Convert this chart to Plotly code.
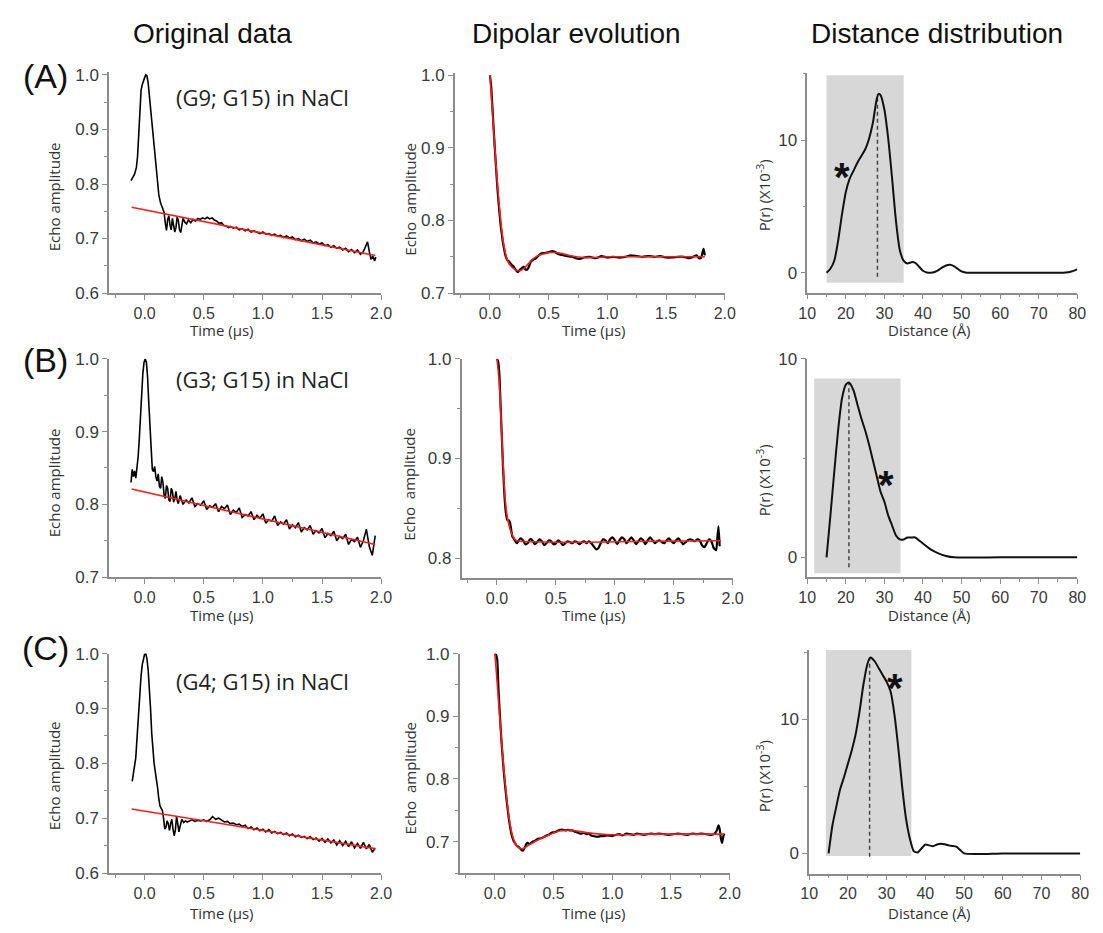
import plotly.graph_objects as go

W, H = 1103, 933

# ---------------- data: original data (column 1) ----------------
A_orig_t = [-0.115, -0.10, -0.085, -0.07, -0.06, -0.05, -0.04, -0.03, -0.02, -0.01, 0.0, 0.01, 0.02, 0.03,
            0.045, 0.06, 0.075, 0.09, 0.105, 0.12, 0.135, 0.15, 0.165, 0.175, 0.185, 0.195, 0.205, 0.215,
            0.225, 0.235, 0.245, 0.255, 0.265, 0.275, 0.285, 0.295, 0.305, 0.315, 0.325, 0.34, 0.355, 0.37,
            0.39, 0.41, 0.43, 0.45, 0.47, 0.49, 0.51, 0.53, 0.55, 0.57, 0.59, 0.61, 0.63, 0.65, 0.67, 0.69,
            0.71, 0.725, 0.75, 0.775, 0.80, 0.825, 0.85, 0.875, 0.90, 0.925, 0.95, 0.975, 1.00, 1.025, 1.05,
            1.075, 1.10, 1.125, 1.15, 1.175, 1.20, 1.225, 1.25, 1.275, 1.30, 1.325, 1.35, 1.375, 1.40, 1.425,
            1.45, 1.475, 1.50, 1.525, 1.55, 1.575, 1.60, 1.625, 1.65, 1.675, 1.70, 1.725, 1.75, 1.775, 1.80,
            1.825, 1.85, 1.87, 1.885, 1.90, 1.915, 1.93, 1.945, 1.955]
A_orig_v = [0.806, 0.812, 0.818, 0.830, 0.850, 0.890, 0.940, 0.972, 0.982, 0.990, 0.995, 1.000, 0.998, 0.985,
            0.950, 0.910, 0.875, 0.840, 0.805, 0.780, 0.765, 0.757, 0.748, 0.728, 0.715, 0.735, 0.742, 0.724,
            0.716, 0.737, 0.726, 0.712, 0.720, 0.740, 0.733, 0.716, 0.711, 0.726, 0.737, 0.730, 0.727, 0.734,
            0.729, 0.735, 0.732, 0.737, 0.735, 0.738, 0.736, 0.739, 0.736, 0.738, 0.734, 0.732, 0.728, 0.729,
            0.724, 0.723, 0.720, 0.722, 0.719, 0.721, 0.716, 0.718, 0.714, 0.717, 0.712, 0.714, 0.711, 0.709,
            0.712, 0.708, 0.709, 0.706, 0.708, 0.704, 0.706, 0.702, 0.705, 0.701, 0.703, 0.698, 0.700, 0.696,
            0.699, 0.695, 0.697, 0.692, 0.694, 0.690, 0.692, 0.687, 0.689, 0.684, 0.687, 0.682, 0.684, 0.679,
            0.682, 0.676, 0.680, 0.674, 0.679, 0.671, 0.676, 0.685, 0.694, 0.676, 0.662, 0.668, 0.659, 0.666]
A_bg_t = [-0.11, 1.95]
A_bg_v = [0.7575, 0.669]

B_orig_t = [-0.115, -0.105, -0.095, -0.085, -0.075, -0.065, -0.055, -0.045, -0.035, -0.025, -0.015, -0.005,
            0.005, 0.015, 0.025, 0.035, 0.045, 0.055, 0.065, 0.075, 0.085, 0.095, 0.105, 0.115, 0.125, 0.135,
            0.145, 0.155, 0.165, 0.175, 0.185, 0.195, 0.205, 0.215, 0.225, 0.235, 0.245, 0.255, 0.265, 0.275,
            0.285, 0.300, 0.325, 0.350, 0.375, 0.400, 0.425, 0.450, 0.475, 0.500, 0.525, 0.550, 0.575, 0.600,
            0.625, 0.650, 0.675, 0.700, 0.725, 0.750, 0.775, 0.800, 0.825, 0.850, 0.875, 0.900, 0.925, 0.950,
            0.975, 1.000, 1.025, 1.050, 1.075, 1.100, 1.125, 1.150, 1.175, 1.200, 1.225, 1.250, 1.275, 1.300,
            1.325, 1.350, 1.375, 1.400, 1.425, 1.450, 1.475, 1.500, 1.525, 1.550, 1.575, 1.600, 1.625, 1.650,
            1.675, 1.700, 1.725, 1.750, 1.775, 1.800, 1.825, 1.850, 1.875, 1.900, 1.925, 1.950]
B_orig_v = [0.830, 0.848, 0.838, 0.846, 0.836, 0.850, 0.865, 0.890, 0.925, 0.955, 0.980, 0.995,
            1.000, 0.995, 0.975, 0.940, 0.905, 0.870, 0.848, 0.845, 0.852, 0.838, 0.832, 0.842, 0.825, 0.822,
            0.838, 0.830, 0.812, 0.808, 0.826, 0.822, 0.806, 0.804, 0.822, 0.818, 0.803, 0.808, 0.818, 0.806,
            0.801, 0.812, 0.800, 0.806, 0.802, 0.809, 0.797, 0.801, 0.799, 0.805, 0.793, 0.798, 0.796, 0.801,
            0.790, 0.797, 0.794, 0.799, 0.786, 0.792, 0.789, 0.795, 0.782, 0.786, 0.784, 0.790, 0.779, 0.785,
            0.781, 0.787, 0.774, 0.779, 0.777, 0.784, 0.771, 0.776, 0.773, 0.779, 0.766, 0.772, 0.768, 0.775,
            0.762, 0.768, 0.765, 0.771, 0.759, 0.764, 0.761, 0.767, 0.754, 0.760, 0.757, 0.763, 0.750, 0.756,
            0.753, 0.759, 0.745, 0.752, 0.749, 0.755, 0.741, 0.750, 0.766, 0.742, 0.730, 0.757]
B_bg_t = [-0.11, 1.95]
B_bg_v = [0.821, 0.745]

C_orig_t = [-0.105, -0.09, -0.075, -0.06, -0.05, -0.04, -0.03, -0.02, -0.01, 0.0, 0.01, 0.02, 0.03, 0.04,
            0.05, 0.06, 0.07, 0.08, 0.09, 0.10, 0.11, 0.12, 0.13, 0.14, 0.15, 0.16, 0.17, 0.18, 0.19, 0.20,
            0.21, 0.22, 0.23, 0.24, 0.25, 0.26, 0.27, 0.28, 0.29, 0.30, 0.315, 0.33, 0.345, 0.36, 0.375, 0.40,
            0.425, 0.45, 0.475, 0.50, 0.525, 0.55, 0.575, 0.60, 0.625, 0.65, 0.675, 0.70, 0.725, 0.75, 0.775,
            0.80, 0.825, 0.85, 0.875, 0.90, 0.925, 0.95, 0.975, 1.00, 1.025, 1.05, 1.075, 1.10, 1.125, 1.15,
            1.175, 1.20, 1.225, 1.25, 1.275, 1.30, 1.325, 1.35, 1.375, 1.40, 1.425, 1.45, 1.475, 1.50, 1.525,
            1.55, 1.575, 1.60, 1.625, 1.65, 1.675, 1.70, 1.725, 1.75, 1.775, 1.80, 1.825, 1.85, 1.875, 1.90,
            1.925, 1.95]
C_orig_v = [0.767, 0.785, 0.810, 0.860, 0.900, 0.935, 0.960, 0.980, 0.993, 0.999, 1.000, 0.990, 0.970, 0.940,
            0.900, 0.855, 0.820, 0.800, 0.785, 0.772, 0.755, 0.735, 0.722, 0.718, 0.714, 0.700, 0.680, 0.683,
            0.695, 0.690, 0.678, 0.690, 0.698, 0.680, 0.668, 0.678, 0.703, 0.690, 0.675, 0.685, 0.698, 0.692,
            0.695, 0.693, 0.694, 0.697, 0.694, 0.696, 0.695, 0.697, 0.694, 0.697, 0.703, 0.698, 0.700, 0.697,
            0.693, 0.694, 0.690, 0.691, 0.688, 0.689, 0.685, 0.687, 0.681, 0.684, 0.679, 0.682, 0.677, 0.680,
            0.675, 0.679, 0.673, 0.676, 0.672, 0.674, 0.670, 0.673, 0.668, 0.671, 0.666, 0.669, 0.665, 0.667,
            0.663, 0.666, 0.661, 0.664, 0.658, 0.663, 0.656, 0.662, 0.655, 0.660, 0.651, 0.659, 0.650, 0.658,
            0.648, 0.657, 0.646, 0.654, 0.645, 0.656, 0.644, 0.652, 0.638, 0.645]
C_bg_t = [-0.11, 1.95]
C_bg_v = [0.7166, 0.6445]

# ---------------- data: dipolar evolution (column 2) ----------------
A_dip_t = [0.0, 0.01, 0.02, 0.03, 0.04, 0.05, 0.06, 0.07, 0.08, 0.09, 0.10, 0.11, 0.12, 0.13, 0.14, 0.15,
           0.16, 0.17, 0.18, 0.19, 0.20, 0.21, 0.22, 0.23, 0.24, 0.25, 0.26, 0.27, 0.28, 0.29, 0.30, 0.31,
           0.32, 0.33, 0.34, 0.35, 0.37, 0.39, 0.41, 0.43, 0.45, 0.47, 0.49, 0.51, 0.53, 0.55, 0.57, 0.60,
           0.63, 0.66, 0.70, 0.73, 0.76, 0.80, 0.85, 0.90, 0.95, 1.00, 1.05, 1.10, 1.15, 1.20, 1.25, 1.30,
           1.35, 1.40, 1.45, 1.50, 1.55, 1.60, 1.65, 1.70, 1.73, 1.76, 1.78, 1.80, 1.81, 1.82, 1.83]
A_dip_v = [1.000, 0.985, 0.958, 0.930, 0.902, 0.877, 0.852, 0.830, 0.812, 0.795, 0.782, 0.770, 0.761, 0.753,
           0.748, 0.745, 0.744, 0.742, 0.740, 0.738, 0.737, 0.734, 0.732, 0.730, 0.729, 0.731, 0.733, 0.734,
           0.736, 0.736, 0.733, 0.732, 0.733, 0.736, 0.740, 0.744, 0.746, 0.748, 0.751, 0.754, 0.755, 0.755,
           0.756, 0.757, 0.758, 0.757, 0.755, 0.753, 0.752, 0.751, 0.750, 0.748, 0.747, 0.749, 0.750, 0.748,
           0.751, 0.749, 0.750, 0.749, 0.750, 0.752, 0.751, 0.750, 0.751, 0.750, 0.751, 0.749, 0.749, 0.750,
           0.750, 0.748, 0.750, 0.752, 0.748, 0.749, 0.756, 0.761, 0.752]
A_fit_t = [0.0, 0.02, 0.04, 0.06, 0.08, 0.10, 0.12, 0.14, 0.16, 0.18, 0.20, 0.22, 0.24, 0.26, 0.28, 0.30,
           0.33, 0.36, 0.40, 0.45, 0.50, 0.55, 0.60, 0.65, 0.70, 0.80, 0.90, 1.00, 1.20, 1.50, 1.83]
A_fit_v = [1.000, 0.952, 0.903, 0.857, 0.818, 0.787, 0.764, 0.749, 0.741, 0.737, 0.734, 0.732, 0.731, 0.731,
           0.733, 0.736, 0.741, 0.746, 0.751, 0.754, 0.756, 0.756, 0.755, 0.753, 0.751, 0.749, 0.749, 0.750,
           0.750, 0.750, 0.750]

B_dip_t = [0.0, 0.01, 0.02, 0.03, 0.04, 0.05, 0.06, 0.07, 0.08, 0.09, 0.10, 0.11, 0.12, 0.13, 0.14, 0.15,
           0.16, 0.17, 0.18, 0.20, 0.22, 0.24, 0.26, 0.28, 0.30, 0.32, 0.34, 0.36, 0.38, 0.40, 0.42, 0.44,
           0.46, 0.48, 0.50, 0.52, 0.54, 0.56, 0.58, 0.60, 0.62, 0.64, 0.66, 0.68, 0.70, 0.72, 0.74, 0.76,
           0.78, 0.80, 0.82, 0.84, 0.86, 0.88, 0.90, 0.92, 0.94, 0.96, 0.98, 1.00, 1.02, 1.04, 1.06, 1.08,
           1.10, 1.12, 1.14, 1.16, 1.18, 1.20, 1.22, 1.24, 1.26, 1.28, 1.30, 1.32, 1.34, 1.36, 1.38, 1.40,
           1.42, 1.44, 1.46, 1.48, 1.50, 1.52, 1.54, 1.56, 1.58, 1.60, 1.62, 1.64, 1.66, 1.68, 1.70, 1.72,
           1.74, 1.76, 1.78, 1.80, 1.82, 1.84, 1.86, 1.87, 1.88, 1.89]
B_dip_v = [1.000, 0.997, 0.985, 0.955, 0.925, 0.895, 0.870, 0.852, 0.842, 0.838, 0.838, 0.836, 0.829, 0.822,
           0.820, 0.818, 0.816, 0.815, 0.817, 0.820, 0.818, 0.814, 0.815, 0.819, 0.818, 0.814, 0.816, 0.819,
           0.817, 0.813, 0.815, 0.818, 0.817, 0.814, 0.815, 0.818, 0.816, 0.813, 0.815, 0.817, 0.816, 0.815,
           0.817, 0.816, 0.814, 0.816, 0.817, 0.815, 0.817, 0.815, 0.812, 0.809, 0.810, 0.815, 0.819, 0.818,
           0.815, 0.819, 0.821, 0.818, 0.814, 0.818, 0.821, 0.819, 0.815, 0.818, 0.821, 0.818, 0.814, 0.817,
           0.820, 0.818, 0.814, 0.818, 0.821, 0.818, 0.815, 0.817, 0.818, 0.816, 0.815, 0.818, 0.820, 0.817,
           0.815, 0.818, 0.820, 0.817, 0.814, 0.816, 0.818, 0.819, 0.818, 0.817, 0.819, 0.818, 0.813, 0.811,
           0.815, 0.819, 0.817, 0.810, 0.808, 0.820, 0.832, 0.812]
B_fit_t = [0.0, 0.02, 0.04, 0.06, 0.08, 0.10, 0.12, 0.14, 0.16, 0.20, 0.30, 0.50, 0.80, 1.00, 1.30, 1.60, 1.90]
B_fit_v = [1.000, 0.975, 0.925, 0.875, 0.847, 0.834, 0.826, 0.821, 0.818, 0.817, 0.8165, 0.816, 0.816, 0.8165,
           0.817, 0.8172, 0.8175]

C_dip_t = [0.0, 0.01, 0.02, 0.03, 0.04, 0.05, 0.06, 0.07, 0.08, 0.09, 0.10, 0.11, 0.12, 0.13, 0.14, 0.15,
           0.16, 0.17, 0.18, 0.19, 0.20, 0.21, 0.22, 0.23, 0.24, 0.25, 0.26, 0.27, 0.28, 0.29, 0.30, 0.32,
           0.34, 0.36, 0.38, 0.40, 0.42, 0.44, 0.46, 0.48, 0.50, 0.52, 0.54, 0.56, 0.58, 0.60, 0.62, 0.64,
           0.66, 0.68, 0.70, 0.72, 0.74, 0.76, 0.78, 0.80, 0.82, 0.84, 0.86, 0.88, 0.90, 0.93, 0.96, 1.00,
           1.03, 1.06, 1.09, 1.12, 1.15, 1.18, 1.21, 1.24, 1.27, 1.30, 1.33, 1.36, 1.40, 1.44, 1.48, 1.52,
           1.56, 1.60, 1.64, 1.68, 1.72, 1.76, 1.80, 1.84, 1.87, 1.89, 1.905, 1.915, 1.925, 1.935, 1.945, 1.955]
C_dip_v = [1.000, 0.998, 0.990, 0.945, 0.910, 0.878, 0.850, 0.825, 0.803, 0.784, 0.766, 0.750, 0.735, 0.723,
           0.713, 0.706, 0.701, 0.698, 0.695, 0.693, 0.692, 0.690, 0.688, 0.686, 0.686, 0.689, 0.693, 0.697,
           0.698, 0.696, 0.697, 0.700, 0.701, 0.704, 0.705, 0.706, 0.708, 0.710, 0.711, 0.714, 0.715, 0.716,
           0.718, 0.719, 0.719, 0.718, 0.719, 0.718, 0.718, 0.716, 0.715, 0.713, 0.713, 0.714, 0.712, 0.713,
           0.710, 0.709, 0.708, 0.708, 0.709, 0.709, 0.710, 0.709, 0.711, 0.712, 0.710, 0.713, 0.712, 0.711,
           0.713, 0.712, 0.711, 0.712, 0.713, 0.712, 0.713, 0.712, 0.711, 0.712, 0.713, 0.712, 0.711, 0.713,
           0.712, 0.713, 0.712, 0.711, 0.713, 0.718, 0.726, 0.720, 0.705, 0.698, 0.708, 0.713]
C_fit_t = [0.0, 0.02, 0.04, 0.06, 0.08, 0.10, 0.12, 0.14, 0.16, 0.18, 0.20, 0.22, 0.24, 0.26, 0.30, 0.35,
           0.40, 0.45, 0.50, 0.55, 0.60, 0.65, 0.70, 0.80, 0.90, 1.00, 1.30, 1.60, 1.95]
C_fit_v = [1.000, 0.952, 0.902, 0.852, 0.808, 0.770, 0.739, 0.717, 0.703, 0.695, 0.691, 0.689, 0.689, 0.691,
           0.696, 0.701, 0.706, 0.710, 0.714, 0.717, 0.718, 0.718, 0.717, 0.714, 0.712, 0.711, 0.712, 0.712,
           0.712]

# ---------------- data: distance distribution (column 3) ----------------
A_r = [15, 16, 17, 18, 19, 20, 21, 22, 23, 24, 25, 26, 27, 28, 28.5, 29, 30, 31, 32, 33, 34, 35, 36, 37, 38,
       39, 40, 41, 42, 43, 44, 45, 46, 47, 48, 49, 50, 51, 52, 60, 70, 76, 77, 78, 79, 80]
A_P = [0.0, 0.3, 0.9, 2.4, 4.4, 6.1, 7.1, 7.7, 8.3, 8.8, 9.3, 10.1, 11.3, 13.1, 13.5, 13.4, 12.3, 10.1, 7.1,
       3.9, 1.7, 0.9, 0.7, 0.8, 0.75, 0.45, 0.15, 0.02, 0.0, 0.05, 0.2, 0.4, 0.55, 0.6, 0.5, 0.3, 0.1, 0.02,
       0.0, 0.0, 0.0, 0.0, 0.02, 0.06, 0.14, 0.25]
B_r = [15, 16, 17, 18, 19, 20, 20.8, 22, 23, 24, 25, 26, 27, 28, 29, 30, 31, 32, 33, 34, 35, 36, 37, 38, 39,
       40, 42, 44, 46, 48, 60, 70, 80]
B_P = [0.0, 2.1, 4.3, 6.4, 8.0, 8.7, 8.8, 8.4, 7.7, 7.0, 6.4, 5.7, 4.9, 4.1, 3.3, 2.8, 2.1, 1.6, 1.1, 0.9,
       0.9, 1.0, 1.0, 1.0, 0.85, 0.7, 0.4, 0.2, 0.07, 0.0, 0.0, 0.0, 0.0]
C_r = [15, 16, 17, 18, 19, 20, 21, 22, 23, 24, 25, 25.7, 26, 27, 28, 29, 30, 31, 32, 33, 34, 35, 36, 37, 38,
       39, 40, 41, 42, 43, 44, 45, 46, 47, 48, 49, 50, 60, 70, 80]
C_P = [0.0, 2.1, 3.5, 4.8, 5.7, 6.7, 7.7, 8.9, 10.6, 12.6, 14.1, 14.6, 14.6, 14.3, 13.8, 13.3, 12.8, 12.1,
       10.4, 7.9, 5.0, 2.6, 1.1, 0.17, 0.07, 0.37, 0.66, 0.6, 0.54, 0.66, 0.73, 0.68, 0.6, 0.56, 0.5, 0.25,
       0.0, 0.0, 0.0, 0.0]

peak_r = [28.2, 20.8, 25.6]
peak_P = [13.5, 8.8, 14.6]
dash_bottom = [-0.3, -0.5, -0.25]
box_r = [(15.0, 35.0), (11.8, 34.2), (14.3, 36.4)]
box_P = [(-0.75, 14.9), (-0.8, 9.0), (-0.2, 15.2)]
star_pos = [(18.9, 7.9), (30.5, 4.1), (32.2, 13.0)]

column_titles = ["Original data", "Dipolar evolution", "Distance distribution"]
row_labels = ["(A)", "(B)", "(C)"]
sample_labels = ["(G9; G15) in NaCl", "(G3; G15) in NaCl", "(G4; G15) in NaCl"]

# ---------------- layout geometry (pixels) ----------------
panels = [
    (102, 379, 64.5, 290, [-0.3, 2.0], [0.6, 1.005], [0.6, 0.7, 0.8, 0.9, 1.0]),
    (454, 729, 65.5, 290, [-0.3, 2.0], [0.7, 1.003], [0.7, 0.8, 0.9, 1.0]),
    (813, 1088, 65, 289.5, [10, 80], [-1.5, 15.1], [0, 10]),
    (102, 379, 357, 580, [-0.3, 2.0], [0.7, 1.0], [0.7, 0.8, 0.9, 1.0]),
    (461, 737, 357, 581, [-0.3, 2.0], [0.78, 1.0], [0.8, 0.9, 1.0]),
    (813, 1088, 357, 580, [10, 80], [-1.0, 10.0], [0, 10]),
    (102, 379, 658, 882, [-0.3, 2.0], [0.6, 1.0], [0.6, 0.7, 0.8, 0.9, 1.0]),
    (459, 734, 658, 882, [-0.3, 2.0], [0.65, 1.0], [0.7, 0.8, 0.9, 1.0]),
    (815, 1091, 654, 882.5, [10, 80], [-1.5, 15.2], [0, 10]),
]

AXC = "#8c8c8c"
TXC = "#3a3a3a"
ARIAL = "Arial, Liberation Sans, sans-serif"
SOFT = "Open Sans, Noto Sans, sans-serif"

fig = go.Figure()
layout = dict(width=W, height=H, margin=dict(l=0, r=0, t=0, b=0), showlegend=False,
              plot_bgcolor="white", paper_bgcolor="white")

for i, (x0, x1, y0, y1, xr, yr, ytv) in enumerate(panels):
    n = "" if i == 0 else str(i + 1)
    col = i % 3
    xa = dict(domain=[x0 / W, x1 / W], range=xr, anchor="y" + n, showline=True, linecolor=AXC, linewidth=1.5,
              ticks="outside", ticklen=5, tickwidth=1.2, tickcolor=AXC, showgrid=False, zeroline=False,
              tickfont=dict(family=ARIAL, size=16, color=TXC))
    ya = dict(domain=[1 - y1 / H, 1 - y0 / H], range=yr, anchor="x" + n, showline=True, linecolor=AXC,
              linewidth=1.5, ticks="outside", ticklen=5, tickwidth=1.2, tickcolor=AXC, showgrid=False,
              zeroline=False, tickvals=ytv, tickfont=dict(family=ARIAL, size=17, color=TXC))
    if col < 2:
        xa.update(tickvals=[0.0, 0.5, 1.0, 1.5, 2.0], tickformat=".1f",
                  minor=dict(ticks="outside", ticklen=3, tickcolor=AXC, dtick=0.25, tick0=0))
        ya.update(tickformat=".1f", minor=dict(ticks="outside", ticklen=3, tickcolor=AXC, dtick=0.05, tick0=0))
    else:
        xa.update(tickvals=[10, 20, 30, 40, 50, 60, 70, 80],
                  minor=dict(ticks="outside", ticklen=3, tickcolor=AXC, dtick=5, tick0=0))
        ya.update(minor=dict(ticks="outside", ticklen=3, tickcolor=AXC, dtick=5, tick0=0))
    layout["xaxis" + n] = xa
    layout["yaxis" + n] = ya

orig = [(A_orig_t, A_orig_v, A_bg_t, A_bg_v), (B_orig_t, B_orig_v, B_bg_t, B_bg_v),
        (C_orig_t, C_orig_v, C_bg_t, C_bg_v)]
dip = [(A_dip_t, A_dip_v, A_fit_t, A_fit_v), (B_dip_t, B_dip_v, B_fit_t, B_fit_v),
       (C_dip_t, C_dip_v, C_fit_t, C_fit_v)]
dist = [(A_r, A_P), (B_r, B_P), (C_r, C_P)]

shapes = []
for row in range(3):
    n = "" if row == 0 else str(row * 3 + 1)
    t, v, bt, bv = orig[row]
    fig.add_trace(go.Scatter(x=t, y=v, mode="lines", line=dict(color="black", width=1.6),
                             xaxis="x" + n, yaxis="y" + n))
    fig.add_trace(go.Scatter(x=bt, y=bv, mode="lines", line=dict(color="#ff1a1a", width=1.6),
                             xaxis="x" + n, yaxis="y" + n))
    n = str(row * 3 + 2)
    t, v, ft, fv = dip[row]
    fig.add_trace(go.Scatter(x=t, y=v, mode="lines", line=dict(color="black", width=2.2, shape="spline",
                                                               smoothing=0.5),
                             xaxis="x" + n, yaxis="y" + n))
    fig.add_trace(go.Scatter(x=ft, y=fv, mode="lines", line=dict(color="#ff1a1a", width=1.6, shape="spline",
                                                                 smoothing=0.6),
                             xaxis="x" + n, yaxis="y" + n))
    n = str(row * 3 + 3)
    r, p = dist[row]
    shapes.append(dict(type="rect", xref="x" + n, yref="y" + n, x0=box_r[row][0], x1=box_r[row][1],
                       y0=box_P[row][0], y1=box_P[row][1], fillcolor="#d7d7d7", line=dict(width=0),
                       layer="below"))
    fig.add_trace(go.Scatter(x=[peak_r[row], peak_r[row]], y=[dash_bottom[row], peak_P[row]], mode="lines",
                             line=dict(color="#444444", width=1.5, dash="4px,3px"),
                             xaxis="x" + n, yaxis="y" + n))
    fig.add_trace(go.Scatter(x=r, y=p, mode="lines", line=dict(color="#111111", width=2.0, shape="spline",
                                                               smoothing=0.6),
                             xaxis="x" + n, yaxis="y" + n))

layout["shapes"] = shapes

ann = []
for cx, txt in zip([207, 578, 945], column_titles):
    ann.append(dict(x=cx / W, y=1 - 25 / H, xref="paper", yref="paper", text=txt, showarrow=False,
                    font=dict(family=ARIAL, size=28, color="#111111"), xanchor="center", yanchor="middle"))
for cy, txt in zip([68, 358, 652], row_labels):
    ann.append(dict(x=37 / W, y=1 - cy / H, xref="paper", yref="paper", text=txt, showarrow=False,
                    font=dict(family=ARIAL, size=34, color="#111111"), xanchor="center", yanchor="middle"))
for cy, txt in zip([90, 378, 686], sample_labels):
    ann.append(dict(x=258 / W, y=1 - cy / H, xref="paper", yref="paper", text=txt, showarrow=False,
                    font=dict(family=SOFT, size=22, color="#222222"), xanchor="center", yanchor="middle"))
ytitle_y = [[192, 194, 190], [484, 485, 481], [783, 785, 783]]
ytitle_x = [46, 408, 768]
ytitle_txt = ["Echo amplitude", "Echo  amplitude", "P(r) (X10<sup>-3</sup>)"]
xtitle_y = [328, 619, 923]
xtitle_x = [217, 596, 938]
xtitle_txt = ["Time (µs)", "Time (µs)", "Distance (Å)"]
for row in range(3):
    for col in range(3):
        ann.append(dict(x=ytitle_x[col] / W, y=1 - ytitle_y[row][col] / H, xref="paper", yref="paper",
                        text=ytitle_txt[col], showarrow=False, textangle=-90,
                        font=dict(family=SOFT, size=15, color="#333333"), xanchor="center", yanchor="middle"))
        ann.append(dict(x=xtitle_x[col] / W, y=1 - xtitle_y[row] / H, xref="paper", yref="paper",
                        text=xtitle_txt[col], showarrow=False,
                        font=dict(family=SOFT, size=15, color="#333333"), xanchor="center", yanchor="middle"))
for row in range(3):
    n = str(row * 3 + 3)
    ann.append(dict(x=star_pos[row][0], y=star_pos[row][1], xref="x" + n, yref="y" + n, text="<b>*</b>",
                    showarrow=False, font=dict(family=ARIAL, size=40, color="#111111"),
                    xanchor="center", yanchor="middle", yshift=-9))
layout["annotations"] = ann

fig.update_layout(**layout)
fig.write_html("out.html", config={"displayModeBar": False},
               post_script="document.body.style.margin='0px';"
                           "document.documentElement.style.overflow='hidden';"
                           "document.body.style.overflow='hidden';")
